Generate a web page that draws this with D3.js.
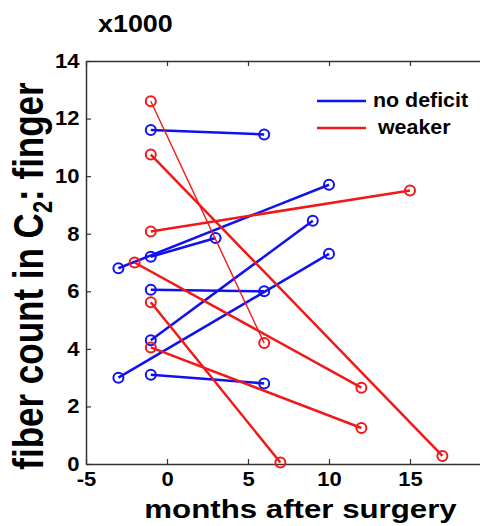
<!DOCTYPE html>
<html>
<head>
<meta charset="utf-8">
<script src="https://cdn.jsdelivr.net/npm/d3@7"></script>
<style>
  body { margin: 0; background: #fff; }
  text { font-family: "Liberation Sans", Arial, sans-serif; font-weight: bold; fill: #000; }
</style>
</head>
<body>
<div id="chart"></div>
<script>
const blueMonths = [[-1, 6], [-3, 10], [-1, 3], [-1, 6], [-1, 9], [-3, 10], [-1, 6]];
const blueCounts = [[11.6, 11.45], [6.8, 9.7], [7.2, 7.85], [6.05, 6.0], [4.3, 8.45], [3.0, 7.3], [3.1, 2.8]];
const redMonths = [[-1, 6], [-1, 17], [-1, 15], [-2, 12], [-1, 7], [-1, 12]];
const redCounts = [[12.6, 4.2], [10.75, 0.28], [8.08, 9.5], [7.0, 2.65], [5.62, 0.05], [4.05, 1.25]];
const thinRed = [true, false, false, false, false, false];

const xTicks = [-5, 0, 5, 10, 15];
const yTicks = [0, 2, 4, 6, 8, 10, 12, 14];
const legendLabels = ["no deficit", " weaker"];

const blue = "#1010f0";
const red = "#f01818";
const axisColor = "#333";

const margin = { top: 61, right: -11, bottom: 62, left: 86 };
const W = 480, H = 526;
const width = W - margin.left - margin.right;
const height = H - margin.top - margin.bottom;

const svg = d3.select("#chart")
    .append("svg")
    .attr("width", W)
    .attr("height", H);

const g = svg.append("g")
    .attr("transform", `translate(${margin.left}, ${margin.top})`);

const x = d3.scaleLinear().domain([-5, 20]).range([0, width]);
const y = d3.scaleLinear().domain([0, 14]).range([height, 0]);

// plain hyphen for negatives, like the original
const fmt = d => String(d);

// axes: ticks point inward like a matlab box
const styleAxis = sel => {
    sel.select(".domain").attr("stroke", axisColor).attr("stroke-width", 1.5);
    sel.selectAll(".tick line").attr("stroke", axisColor).attr("stroke-width", 1.2);
    sel.selectAll("text").attr("font-size", 20).attr("fill", "#000")
        .attr("transform", "scale(1.1,1)");
};

g.append("g")
    .attr("transform", `translate(0, ${height})`)
    .call(d3.axisBottom(x).tickValues(xTicks).tickFormat(fmt).tickSizeInner(-5).tickSizeOuter(0).tickPadding(8))
    .call(styleAxis);
g.append("g")
    .call(d3.axisTop(x).tickValues(xTicks).tickSizeInner(-5).tickSizeOuter(0).tickFormat(""))
    .call(styleAxis);
g.append("g")
    .call(d3.axisLeft(y).tickValues(yTicks).tickFormat(fmt).tickSizeInner(-5).tickSizeOuter(0).tickPadding(6))
    .call(styleAxis);
g.append("g")
    .attr("transform", `translate(${width}, 0)`)
    .call(d3.axisRight(y).tickValues(yTicks).tickSizeInner(-5).tickSizeOuter(0).tickFormat(""))
    .call(styleAxis);

// patient lines
function drawGroup(months, counts, color, thin) {
    months.forEach((m, i) => {
        const pts = m.map((mm, j) => [mm, counts[i][j]]);
        g.append("path")
            .datum(pts)
            .attr("fill", "none")
            .attr("stroke", color)
            .attr("stroke-width", thin && thin[i] ? 1.4 : 2.5)
            .attr("d", d3.line().x(d => x(d[0])).y(d => y(d[1])));
        g.selectAll(null)
            .data(pts)
            .join("circle")
            .attr("cx", d => x(d[0]))
            .attr("cy", d => y(d[1]))
            .attr("r", 5)
            .attr("fill", "none")
            .attr("stroke", color)
            .attr("stroke-width", 2);
    });
}
drawGroup(blueMonths, blueCounts, blue, null);
drawGroup(redMonths, redCounts, red, thinRed);

// legend
const legendColors = [blue, red];
const legendY = [101, 128];
legendLabels.forEach((lab, i) => {
    svg.append("line")
        .attr("x1", 317).attr("x2", 366)
        .attr("y1", legendY[i]).attr("y2", legendY[i])
        .attr("stroke", legendColors[i])
        .attr("stroke-width", 2.5);
    svg.append("text")
        .attr("transform", `translate(${i == 0 ? 373 : 372}, ${legendY[i] + 6}) scale(1.07,1)`)
        .attr("font-size", 20)
        .attr("xml:space", "preserve")
        .style("white-space", "pre")
        .text(lab);
});

// multiplier label
svg.append("text")
    .attr("transform", "translate(98, 32) scale(1.17,1)")
    .attr("font-size", 23)
    .text("x1000");

// x label
svg.append("text")
    .attr("transform", `translate(${(143 + 458) / 2}, 518) scale(1.25,1)`)
    .attr("text-anchor", "middle")
    .attr("font-size", 25)
    .text("months after surgery");

// y label with subscript
const yl = svg.append("text")
    .attr("transform", "translate(43, 276) scale(1.22,1) rotate(-90)")
    .attr("text-anchor", "middle")
    .attr("font-size", 35);
yl.append("tspan").text("fiber count in C");
yl.append("tspan").attr("font-size", 22).attr("dy", 7).text("2");
yl.append("tspan").attr("dy", -7).text(": finger");
</script>
</body>
</html>
